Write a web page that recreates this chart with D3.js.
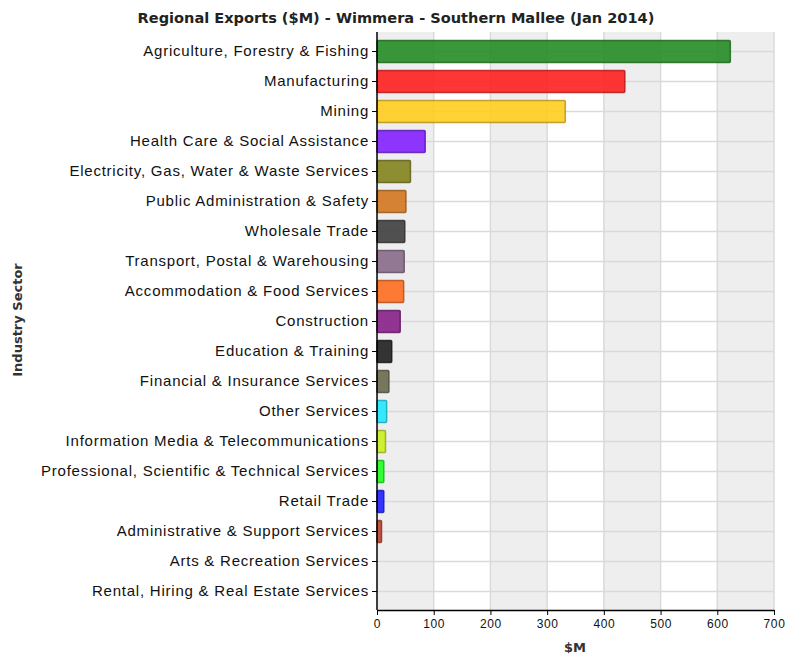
<!DOCTYPE html>
<html>
<head>
<meta charset="utf-8">
<script src="https://cdn.jsdelivr.net/npm/d3@7"></script>
<style>
  body { margin: 0; background: #fff; }
</style>
</head>
<body>
<div id="chart"></div>
<script>
// data
const sectors = [
  "Agriculture, Forestry & Fishing",
  "Manufacturing",
  "Mining",
  "Health Care & Social Assistance",
  "Electricity, Gas, Water & Waste Services",
  "Public Administration & Safety",
  "Wholesale Trade",
  "Transport, Postal & Warehousing",
  "Accommodation & Food Services",
  "Construction",
  "Education & Training",
  "Financial & Insurance Services",
  "Other Services",
  "Information Media & Telecommunications",
  "Professional, Scientific & Technical Services",
  "Retail Trade",
  "Administrative & Support Services",
  "Arts & Recreation Services",
  "Rental, Hiring & Real Estate Services"
];
const exportsM = [623, 437, 332, 85, 59, 51, 49, 48, 47, 41, 26, 21, 17, 15, 12, 12, 8, 0, 0];
const barColors = [
  "#1f8a1f", "#ff1a1a", "#ffcc1a", "#7f1aff", "#808018", "#d2731a",
  "#3a3a3a", "#866886", "#ff6a1a", "#851a85", "#1a1a1a", "#66664a",
  "#1ae8ff", "#c8f01a", "#1aff1a", "#1a1aff", "#b8402a", "#999999", "#999999"
];
const xTicks = [0, 100, 200, 300, 400, 500, 600, 700];

const W = 785, H = 654;
const margin = { left: 377, right: 11, top: 32, bottom: 44 };
const width = W - margin.left - margin.right;
const height = H - margin.top - margin.bottom;
const sans = "'Liberation Sans', Arial, sans-serif";
const boldFont = "'DejaVu Sans', Verdana, sans-serif";

const svg = d3.select("#chart").append("svg")
    .attr("width", W)
    .attr("height", H)
    .style("font-family", sans);
const g = svg.append("g")
    .attr("transform", `translate(${margin.left},${margin.top})`);

const x = d3.scaleLinear().domain([0, 700]).range([0, width]);
const y = d3.scaleBand().domain(sectors).range([4.5, height - 3.5]).paddingInner(0.27).paddingOuter(0.135);

// font size that makes a text span the given width
function fitWidth(sel, target) {
    const len = sel.node().getComputedTextLength();
    const fs = parseFloat(sel.attr("font-size"));
    return fs * target / len;
}

// alternating column bands
g.selectAll("rect.band")
    .data(xTicks.slice(0, -1))
    .enter().append("rect")
    .attr("class", "band")
    .attr("x", d => x(d))
    .attr("y", 0)
    .attr("width", d => x(d + 100) - x(d))
    .attr("height", height)
    .attr("fill", (d, i) => i % 2 === 0 ? "#eeeeee" : "#ffffff");

// grid
g.selectAll("line.vgrid")
    .data(xTicks.slice(1))
    .enter().append("line")
    .attr("class", "vgrid")
    .attr("x1", d => x(d)).attr("x2", d => x(d))
    .attr("y1", 0).attr("y2", height)
    .attr("stroke", "#dadada").attr("stroke-width", 1.5);
g.selectAll("line.hgrid")
    .data(sectors)
    .enter().append("line")
    .attr("class", "hgrid")
    .attr("x1", 0).attr("x2", width)
    .attr("y1", d => y(d) + y.bandwidth() / 2)
    .attr("y2", d => y(d) + y.bandwidth() / 2)
    .attr("stroke", "#dadada").attr("stroke-width", 1.5);

// bars
g.selectAll("rect.bar")
    .data(sectors)
    .enter().append("rect")
    .attr("class", "bar")
    .attr("x", x(0))
    .attr("y", d => y(d))
    .attr("width", (d, i) => Math.max(0, x(exportsM[i]) - x(0)))
    .attr("height", y.bandwidth())
    .attr("fill", (d, i) => barColors[i])
    .attr("fill-opacity", 0.88)
    .attr("stroke", (d, i) => d3.color(barColors[i]).darker(1))
    .attr("stroke-opacity", 0.8)
    .attr("stroke-width", 1.5)
    .attr("rx", 1);

// axes
const yAxis = g.append("g")
    .call(d3.axisLeft(y).tickSize(5).tickPadding(3).tickSizeOuter(0))
    .attr("font-family", sans);
yAxis.selectAll("text").attr("font-size", "15px").attr("fill", "#111");
yAxis.select(".domain").attr("stroke-width", 1.5).attr("d", `M0,0V${height}`);
// longest label spans ~328px in the reference: widen with letter spacing
const longest = yAxis.selectAll("text").filter(d => d === sectors[14]);
const spacing = (328 - longest.node().getComputedTextLength()) / sectors[14].length;
yAxis.selectAll("text").attr("letter-spacing", spacing + "px");

const xAxis = g.append("g")
    .attr("transform", `translate(0,${height})`)
    .call(d3.axisBottom(x).tickValues(xTicks).tickSize(5).tickSizeOuter(0).tickPadding(4))
    .attr("font-family", sans);
xAxis.selectAll("text").attr("font-size", "12px").attr("fill", "#111").attr("letter-spacing", "0.6px");
xAxis.select(".domain").attr("stroke-width", 1.5);

// titles
const title = svg.append("text")
    .attr("x", 396).attr("y", 23)
    .attr("text-anchor", "middle")
    .attr("font-family", boldFont)
    .attr("font-size", "13.5px").attr("font-weight", "bold").attr("fill", "#222")
    .text("Regional Exports ($M) - Wimmera - Southern Mallee (Jan 2014)");
title.attr("font-size", fitWidth(title, 517) + "px");

svg.append("text")
    .attr("x", 575).attr("y", 652)
    .attr("text-anchor", "middle")
    .attr("font-family", boldFont)
    .attr("font-size", "13px").attr("font-weight", "bold").attr("fill", "#333")
    .text("$M");
svg.append("text")
    .attr("transform", "rotate(-90)")
    .attr("x", -320).attr("y", 22)
    .attr("text-anchor", "middle")
    .attr("font-family", boldFont)
    .attr("font-size", "13px").attr("font-weight", "bold").attr("fill", "#333")
    .text("Industry Sector");
</script>
</body>
</html>
